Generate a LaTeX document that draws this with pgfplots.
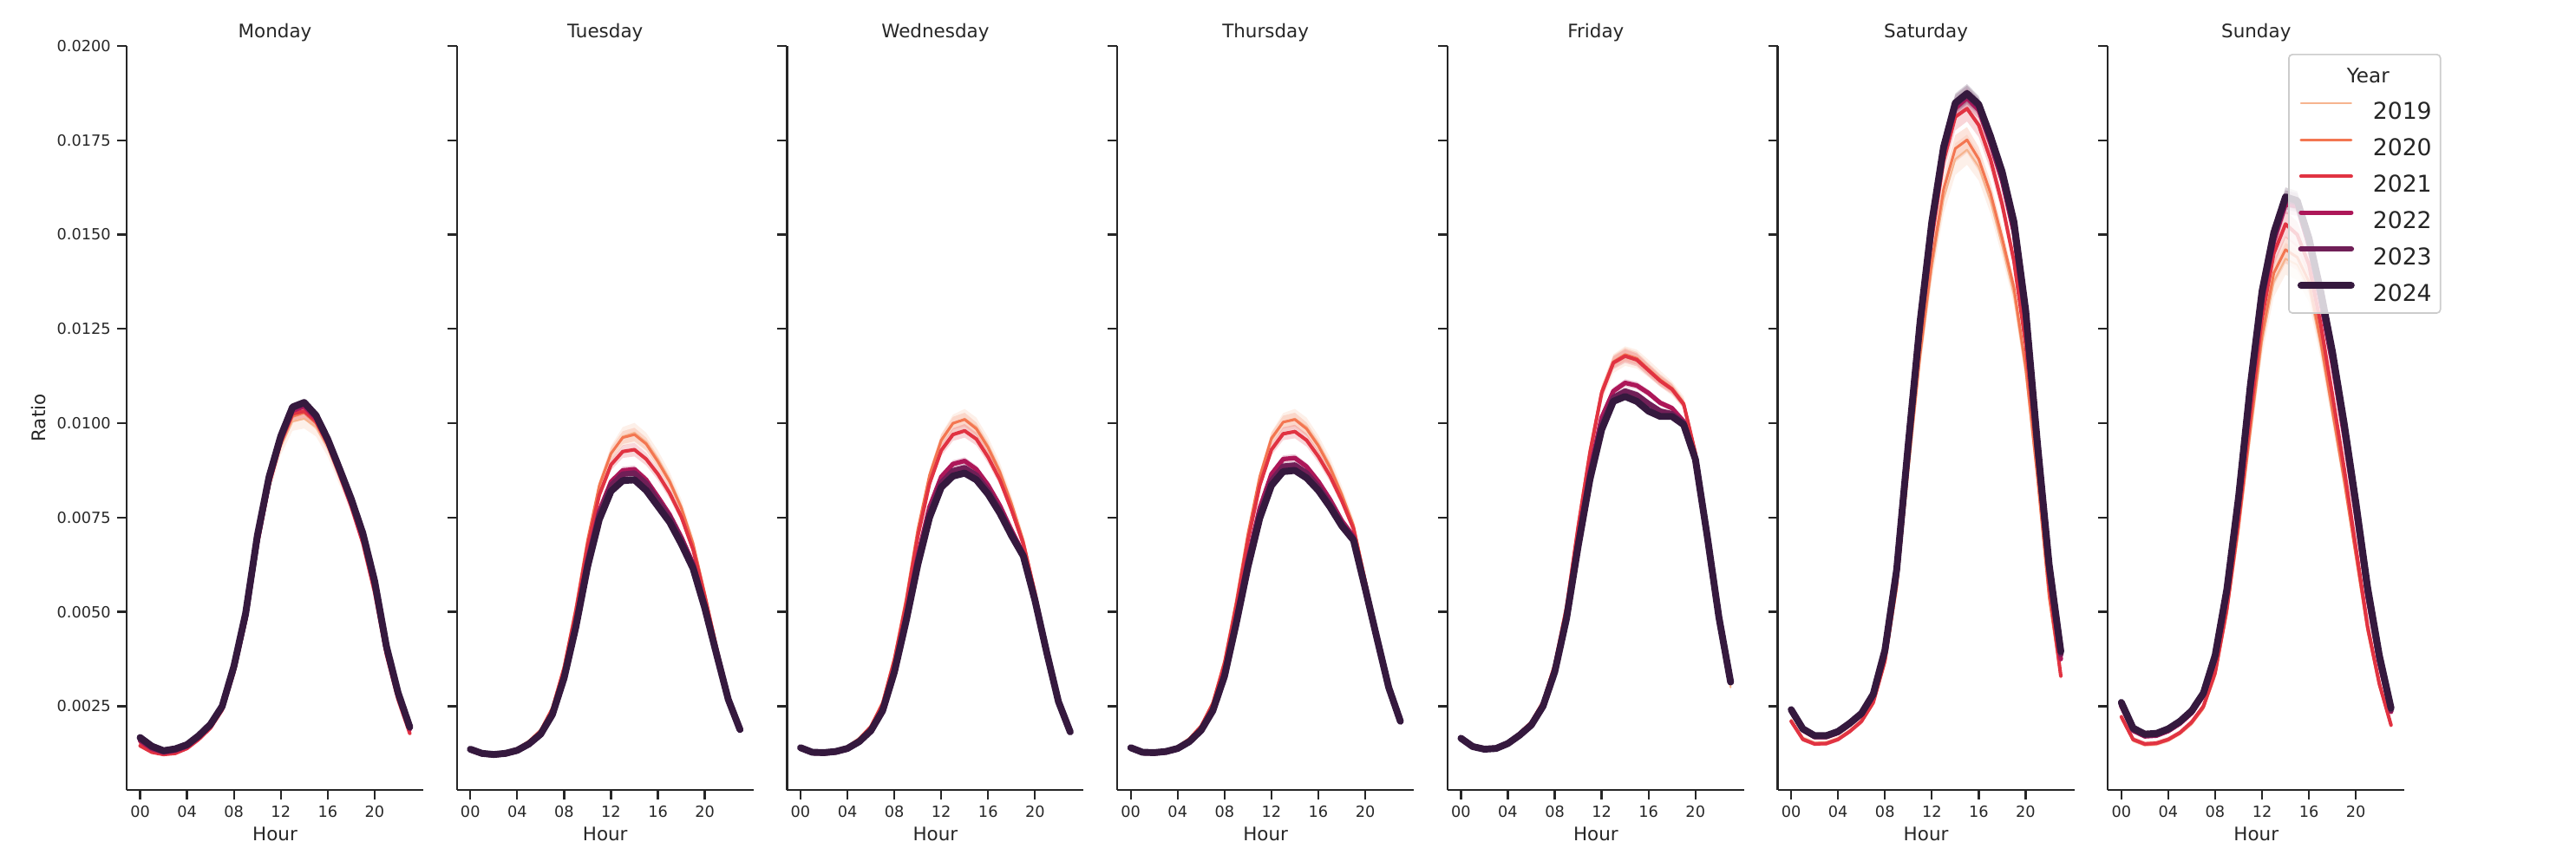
\documentclass[border=0pt]{standalone}
\usepackage{fontspec}
\setmainfont{DejaVu Sans}
\usepackage{pgfplots}
\usepackage{pgfplotstable}
\pgfplotsset{compat=1.18}
\usepgfplotslibrary{fillbetween}

\definecolor{c19}{HTML}{F6B48F}
\definecolor{c20}{HTML}{F37651}
\definecolor{c21}{HTML}{E13342}
\definecolor{c22}{HTML}{AD1759}
\definecolor{c23}{HTML}{701F57}
\definecolor{c24}{HTML}{35193E}
\definecolor{ax}{HTML}{262626}

% hourly ratio per year; e1/e2/e3 = half width of the band (2019 / 2020-21 / 2022-24)
\pgfplotstableread{
h y19 y20 y21 y22 y23 y24 e1 e2 e3
0 0.00152 0.00150 0.00145 0.00158 0.00163 0.00167 0.00004 0.00003 0.00002
1 0.00134 0.00132 0.00128 0.00137 0.00141 0.00144 0.00004 0.00003 0.00002
2 0.00126 0.00124 0.00122 0.00127 0.00130 0.00132 0.00004 0.00003 0.00002
3 0.00130 0.00128 0.00125 0.00132 0.00135 0.00137 0.00004 0.00003 0.00002
4 0.00142 0.00140 0.00138 0.00143 0.00146 0.00148 0.00004 0.00003 0.00002
5 0.00166 0.00165 0.00162 0.00167 0.00170 0.00172 0.00004 0.00003 0.00002
6 0.00196 0.00195 0.00192 0.00197 0.00200 0.00202 0.00005 0.00004 0.00002
7 0.00244 0.00243 0.00240 0.00245 0.00248 0.00250 0.00006 0.00004 0.00003
8 0.00344 0.00343 0.00340 0.00348 0.00352 0.00356 0.00008 0.00006 0.00003
9 0.00480 0.00480 0.00478 0.00485 0.00490 0.00496 0.00010 0.00007 0.00004
10 0.00678 0.00680 0.00678 0.00688 0.00695 0.00702 0.00014 0.00010 0.00006
11 0.00830 0.00835 0.00838 0.00845 0.00852 0.00858 0.00018 0.00013 0.00007
12 0.00938 0.00945 0.00950 0.00955 0.00962 0.00966 0.00022 0.00015 0.00009
13 0.01005 0.01018 0.01025 0.01033 0.01040 0.01043 0.00025 0.00017 0.00010
14 0.01012 0.01028 0.01032 0.01045 0.01052 0.01055 0.00026 0.00018 0.00010
15 0.00990 0.01000 0.01005 0.01012 0.01018 0.01021 0.00025 0.00017 0.00010
16 0.00935 0.00942 0.00945 0.00950 0.00955 0.00958 0.00023 0.00016 0.00009
17 0.00858 0.00862 0.00865 0.00870 0.00876 0.00880 0.00021 0.00015 0.00008
18 0.00780 0.00782 0.00780 0.00788 0.00795 0.00800 0.00019 0.00013 0.00008
19 0.00688 0.00688 0.00682 0.00695 0.00702 0.00708 0.00016 0.00011 0.00006
20 0.00562 0.00560 0.00552 0.00568 0.00576 0.00582 0.00012 0.00008 0.00005
21 0.00396 0.00394 0.00388 0.00398 0.00405 0.00410 0.00009 0.00006 0.00004
22 0.00275 0.00273 0.00268 0.00278 0.00283 0.00286 0.00006 0.00004 0.00003
23 0.00185 0.00183 0.00178 0.00189 0.00193 0.00195 0.00005 0.00004 0.00002
}\mon

\pgfplotstableread{
h y19 y20 y21 y22 y23 y24 e1 e2 e3
0 0.00140 0.00137 0.00138 0.00134 0.00135 0.00136 0.00004 0.00003 0.00002
1 0.00129 0.00126 0.00127 0.00123 0.00124 0.00125 0.00004 0.00003 0.00002
2 0.00126 0.00123 0.00124 0.00120 0.00121 0.00122 0.00004 0.00003 0.00002
3 0.00129 0.00126 0.00127 0.00123 0.00124 0.00125 0.00004 0.00003 0.00002
4 0.00139 0.00136 0.00136 0.00131 0.00132 0.00133 0.00004 0.00003 0.00002
5 0.00159 0.00156 0.00155 0.00149 0.00149 0.00150 0.00004 0.00003 0.00002
6 0.00188 0.00186 0.00184 0.00176 0.00175 0.00176 0.00005 0.00004 0.00002
7 0.00248 0.00246 0.00242 0.00230 0.00228 0.00228 0.00006 0.00004 0.00003
8 0.00356 0.00356 0.00350 0.00332 0.00328 0.00325 0.00008 0.00006 0.00003
9 0.00508 0.00510 0.00500 0.00472 0.00466 0.00460 0.00010 0.00007 0.00004
10 0.00685 0.00690 0.00675 0.00640 0.00630 0.00620 0.00014 0.00010 0.00006
11 0.00830 0.00835 0.00810 0.00768 0.00758 0.00745 0.00018 0.00013 0.00007
12 0.00918 0.00920 0.00890 0.00845 0.00835 0.00820 0.00022 0.00015 0.00009
13 0.00965 0.00962 0.00925 0.00875 0.00865 0.00848 0.00025 0.00017 0.00010
14 0.00975 0.00970 0.00930 0.00878 0.00868 0.00850 0.00026 0.00018 0.00010
15 0.00950 0.00945 0.00905 0.00850 0.00840 0.00822 0.00025 0.00017 0.00010
16 0.00905 0.00898 0.00865 0.00805 0.00795 0.00780 0.00023 0.00016 0.00009
17 0.00850 0.00845 0.00815 0.00758 0.00750 0.00738 0.00021 0.00015 0.00008
18 0.00780 0.00775 0.00752 0.00698 0.00690 0.00680 0.00019 0.00013 0.00008
19 0.00685 0.00680 0.00665 0.00628 0.00622 0.00615 0.00016 0.00011 0.00006
20 0.00550 0.00548 0.00540 0.00518 0.00515 0.00510 0.00012 0.00008 0.00005
21 0.00410 0.00408 0.00405 0.00392 0.00390 0.00388 0.00009 0.00006 0.00004
22 0.00277 0.00275 0.00275 0.00268 0.00268 0.00268 0.00006 0.00004 0.00003
23 0.00190 0.00190 0.00192 0.00188 0.00188 0.00188 0.00005 0.00004 0.00002
}\tue

\pgfplotstableread{
h y19 y20 y21 y22 y23 y24 e1 e2 e3
0 0.00144 0.00141 0.00142 0.00138 0.00139 0.00140 0.00004 0.00003 0.00002
1 0.00132 0.00129 0.00130 0.00126 0.00127 0.00128 0.00004 0.00003 0.00002
2 0.00131 0.00128 0.00129 0.00125 0.00126 0.00127 0.00004 0.00003 0.00002
3 0.00134 0.00131 0.00132 0.00128 0.00129 0.00130 0.00004 0.00003 0.00002
4 0.00144 0.00141 0.00141 0.00137 0.00137 0.00138 0.00004 0.00003 0.00002
5 0.00166 0.00163 0.00162 0.00157 0.00156 0.00156 0.00004 0.00003 0.00002
6 0.00199 0.00197 0.00195 0.00188 0.00186 0.00185 0.00005 0.00004 0.00002
7 0.00262 0.00260 0.00255 0.00243 0.00240 0.00238 0.00006 0.00004 0.00003
8 0.00378 0.00378 0.00370 0.00350 0.00344 0.00340 0.00008 0.00006 0.00003
9 0.00530 0.00532 0.00520 0.00490 0.00481 0.00475 0.00010 0.00007 0.00004
10 0.00712 0.00718 0.00700 0.00648 0.00635 0.00625 0.00014 0.00010 0.00006
11 0.00858 0.00862 0.00840 0.00778 0.00762 0.00750 0.00018 0.00013 0.00007
12 0.00950 0.00955 0.00928 0.00858 0.00842 0.00830 0.00022 0.00015 0.00009
13 0.00998 0.01000 0.00970 0.00892 0.00874 0.00860 0.00025 0.00017 0.00010
14 0.01012 0.01010 0.00980 0.00900 0.00882 0.00868 0.00026 0.00018 0.00010
15 0.00990 0.00985 0.00958 0.00878 0.00862 0.00850 0.00025 0.00017 0.00010
16 0.00940 0.00935 0.00910 0.00836 0.00822 0.00812 0.00023 0.00016 0.00009
17 0.00875 0.00870 0.00850 0.00782 0.00770 0.00762 0.00021 0.00015 0.00008
18 0.00790 0.00785 0.00770 0.00716 0.00708 0.00702 0.00019 0.00013 0.00008
19 0.00690 0.00688 0.00680 0.00655 0.00650 0.00648 0.00016 0.00011 0.00006
20 0.00555 0.00552 0.00550 0.00535 0.00532 0.00530 0.00012 0.00008 0.00005
21 0.00402 0.00400 0.00400 0.00394 0.00392 0.00392 0.00009 0.00006 0.00004
22 0.00266 0.00265 0.00265 0.00262 0.00262 0.00262 0.00006 0.00004 0.00003
23 0.00183 0.00183 0.00183 0.00182 0.00182 0.00182 0.00005 0.00004 0.00002
}\wed

\pgfplotstableread{
h y19 y20 y21 y22 y23 y24 e1 e2 e3
0 0.00144 0.00141 0.00142 0.00138 0.00139 0.00140 0.00004 0.00003 0.00002
1 0.00132 0.00129 0.00130 0.00126 0.00127 0.00128 0.00004 0.00003 0.00002
2 0.00131 0.00128 0.00129 0.00125 0.00126 0.00127 0.00004 0.00003 0.00002
3 0.00134 0.00131 0.00132 0.00128 0.00129 0.00130 0.00004 0.00003 0.00002
4 0.00144 0.00141 0.00141 0.00137 0.00137 0.00138 0.00004 0.00003 0.00002
5 0.00166 0.00163 0.00162 0.00157 0.00156 0.00156 0.00004 0.00003 0.00002
6 0.00200 0.00198 0.00196 0.00189 0.00187 0.00186 0.00005 0.00004 0.00002
7 0.00262 0.00260 0.00255 0.00243 0.00240 0.00238 0.00006 0.00004 0.00003
8 0.00370 0.00370 0.00362 0.00340 0.00334 0.00330 0.00008 0.00006 0.00003
9 0.00525 0.00528 0.00515 0.00485 0.00476 0.00470 0.00010 0.00007 0.00004
10 0.00702 0.00708 0.00690 0.00642 0.00630 0.00620 0.00014 0.00010 0.00006
11 0.00852 0.00858 0.00835 0.00775 0.00760 0.00748 0.00018 0.00013 0.00007
12 0.00955 0.00960 0.00930 0.00865 0.00848 0.00835 0.00022 0.00015 0.00009
13 0.01002 0.01003 0.00972 0.00905 0.00886 0.00872 0.00025 0.00017 0.00010
14 0.01012 0.01010 0.00978 0.00908 0.00889 0.00875 0.00026 0.00018 0.00010
15 0.00990 0.00985 0.00955 0.00885 0.00868 0.00855 0.00025 0.00017 0.00010
16 0.00945 0.00940 0.00912 0.00846 0.00832 0.00822 0.00023 0.00016 0.00009
17 0.00888 0.00882 0.00860 0.00798 0.00786 0.00778 0.00021 0.00015 0.00008
18 0.00815 0.00810 0.00795 0.00742 0.00734 0.00728 0.00019 0.00013 0.00008
19 0.00732 0.00728 0.00720 0.00700 0.00694 0.00690 0.00016 0.00011 0.00006
20 0.00588 0.00585 0.00580 0.00568 0.00565 0.00562 0.00012 0.00008 0.00005
21 0.00442 0.00440 0.00438 0.00433 0.00432 0.00430 0.00009 0.00006 0.00004
22 0.00303 0.00302 0.00302 0.00300 0.00300 0.00300 0.00006 0.00004 0.00003
23 0.00209 0.00209 0.00210 0.00210 0.00210 0.00210 0.00005 0.00004 0.00002
}\thu

\pgfplotstableread{
h y19 y20 y21 y22 y23 y24 e1 e2 e3
0 0.00168 0.00166 0.00167 0.00166 0.00166 0.00165 0.00004 0.00003 0.00002
1 0.00146 0.00144 0.00145 0.00144 0.00144 0.00143 0.00004 0.00003 0.00002
2 0.00139 0.00137 0.00138 0.00137 0.00137 0.00136 0.00004 0.00003 0.00002
3 0.00141 0.00139 0.00140 0.00139 0.00139 0.00138 0.00004 0.00003 0.00002
4 0.00155 0.00153 0.00154 0.00152 0.00152 0.00151 0.00004 0.00003 0.00002
5 0.00180 0.00178 0.00178 0.00175 0.00174 0.00173 0.00004 0.00003 0.00002
6 0.00210 0.00208 0.00207 0.00203 0.00201 0.00200 0.00005 0.00004 0.00002
7 0.00265 0.00262 0.00260 0.00254 0.00251 0.00250 0.00006 0.00004 0.00003
8 0.00364 0.00362 0.00358 0.00348 0.00343 0.00341 0.00008 0.00006 0.00003
9 0.00516 0.00516 0.00510 0.00492 0.00486 0.00482 0.00010 0.00007 0.00004
10 0.00728 0.00732 0.00725 0.00692 0.00682 0.00675 0.00014 0.00010 0.00006
11 0.00922 0.00928 0.00920 0.00875 0.00860 0.00851 0.00018 0.00013 0.00007
12 0.01078 0.01085 0.01080 0.01015 0.00995 0.00983 0.00022 0.00015 0.00009
13 0.01158 0.01163 0.01160 0.01085 0.01068 0.01058 0.00025 0.00017 0.00010
14 0.01178 0.01182 0.01178 0.01107 0.01085 0.01071 0.00026 0.00018 0.00010
15 0.01170 0.01172 0.01168 0.01100 0.01075 0.01058 0.00025 0.00017 0.00010
16 0.01145 0.01143 0.01140 0.01080 0.01052 0.01032 0.00023 0.00016 0.00009
17 0.01118 0.01115 0.01112 0.01054 0.01032 0.01018 0.00021 0.00015 0.00008
18 0.01092 0.01093 0.01090 0.01040 0.01025 0.01018 0.00019 0.00013 0.00008
19 0.01055 0.01053 0.01050 0.01005 0.01000 0.00996 0.00016 0.00011 0.00006
20 0.00925 0.00922 0.00920 0.00908 0.00905 0.00904 0.00012 0.00008 0.00005
21 0.00712 0.00708 0.00708 0.00703 0.00702 0.00702 0.00009 0.00006 0.00004
22 0.00490 0.00488 0.00488 0.00486 0.00486 0.00486 0.00006 0.00004 0.00003
23 0.00300 0.00310 0.00312 0.00313 0.00314 0.00314 0.00005 0.00004 0.00002
}\fri

\pgfplotstableread{
h y19 y20 y21 y22 y23 y24 e1 e2 e3
0 0.00214 0.00212 0.00210 0.00236 0.00240 0.00241 0.00006 0.00006 0.00005
1 0.00166 0.00164 0.00162 0.00186 0.00189 0.00190 0.00006 0.00006 0.00005
2 0.00153 0.00151 0.00150 0.00168 0.00171 0.00172 0.00006 0.00006 0.00005
3 0.00154 0.00152 0.00151 0.00168 0.00171 0.00172 0.00006 0.00006 0.00005
4 0.00165 0.00163 0.00162 0.00179 0.00182 0.00183 0.00006 0.00006 0.00005
5 0.00186 0.00184 0.00183 0.00201 0.00204 0.00205 0.00006 0.00006 0.00005
6 0.00212 0.00210 0.00210 0.00227 0.00230 0.00231 0.00008 0.00008 0.00005
7 0.00259 0.00258 0.00260 0.00276 0.00280 0.00282 0.00010 0.00008 0.00008
8 0.00365 0.00366 0.00372 0.00390 0.00396 0.00399 0.00013 0.00012 0.00008
9 0.00560 0.00565 0.00580 0.00598 0.00608 0.00612 0.00016 0.00014 0.00010
10 0.00875 0.00885 0.00910 0.00930 0.00942 0.00948 0.00022 0.00020 0.00015
11 0.01170 0.01185 0.01228 0.01250 0.01262 0.01270 0.00029 0.00026 0.00018
12 0.01410 0.01430 0.01490 0.01515 0.01526 0.01534 0.00035 0.00030 0.00022
13 0.01595 0.01620 0.01695 0.01715 0.01725 0.01732 0.00040 0.00034 0.00025
14 0.01700 0.01728 0.01812 0.01835 0.01845 0.01849 0.00042 0.00036 0.00025
15 0.01725 0.01751 0.01834 0.01862 0.01870 0.01874 0.00040 0.00034 0.00025
16 0.01680 0.01700 0.01790 0.01830 0.01840 0.01845 0.00037 0.00032 0.00022
17 0.01590 0.01610 0.01700 0.01742 0.01752 0.01761 0.00034 0.00030 0.00020
18 0.01470 0.01490 0.01580 0.01642 0.01655 0.01666 0.00030 0.00026 0.00020
19 0.01340 0.01360 0.01430 0.01505 0.01520 0.01534 0.00026 0.00022 0.00015
20 0.01135 0.01150 0.01210 0.01270 0.01285 0.01300 0.00019 0.00016 0.00012
21 0.00850 0.00860 0.00900 0.00920 0.00935 0.00948 0.00014 0.00012 0.00010
22 0.00535 0.00540 0.00570 0.00600 0.00615 0.00626 0.00010 0.00008 0.00008
23 0.00330 0.00330 0.00330 0.00375 0.00388 0.00395 0.00008 0.00008 0.00005
}\sat

\pgfplotstableread{
h y19 y20 y21 y22 y23 y24 e1 e2 e3
0 0.00224 0.00220 0.00222 0.00250 0.00255 0.00260 0.00006 0.00006 0.00005
1 0.00164 0.00160 0.00162 0.00185 0.00188 0.00192 0.00006 0.00006 0.00005
2 0.00152 0.00148 0.00150 0.00170 0.00173 0.00176 0.00006 0.00006 0.00005
3 0.00154 0.00150 0.00152 0.00172 0.00175 0.00178 0.00006 0.00006 0.00005
4 0.00164 0.00160 0.00162 0.00184 0.00187 0.00190 0.00006 0.00006 0.00005
5 0.00182 0.00178 0.00180 0.00204 0.00207 0.00210 0.00006 0.00006 0.00005
6 0.00208 0.00205 0.00208 0.00232 0.00235 0.00238 0.00008 0.00008 0.00005
7 0.00248 0.00246 0.00250 0.00278 0.00282 0.00285 0.00010 0.00008 0.00008
8 0.00334 0.00334 0.00340 0.00375 0.00380 0.00385 0.00013 0.00012 0.00008
9 0.00496 0.00500 0.00510 0.00545 0.00552 0.00560 0.00016 0.00014 0.00010
10 0.00715 0.00725 0.00745 0.00785 0.00795 0.00805 0.00022 0.00020 0.00015
11 0.00970 0.00985 0.01020 0.01075 0.01088 0.01100 0.00029 0.00026 0.00018
12 0.01215 0.01235 0.01280 0.01325 0.01338 0.01350 0.00035 0.00030 0.00022
13 0.01375 0.01398 0.01450 0.01482 0.01495 0.01505 0.00040 0.00034 0.00025
14 0.01436 0.01460 0.01528 0.01580 0.01592 0.01600 0.00042 0.00036 0.00025
15 0.01420 0.01440 0.01500 0.01575 0.01585 0.01590 0.00040 0.00034 0.00025
16 0.01358 0.01375 0.01420 0.01470 0.01482 0.01490 0.00037 0.00032 0.00022
17 0.01205 0.01220 0.01262 0.01322 0.01338 0.01350 0.00034 0.00030 0.00020
18 0.01025 0.01035 0.01075 0.01158 0.01175 0.01190 0.00030 0.00026 0.00020
19 0.00845 0.00850 0.00880 0.00968 0.00985 0.01000 0.00026 0.00022 0.00015
20 0.00648 0.00650 0.00670 0.00760 0.00775 0.00790 0.00019 0.00016 0.00012
21 0.00452 0.00452 0.00462 0.00540 0.00552 0.00565 0.00014 0.00012 0.00010
22 0.00306 0.00306 0.00310 0.00365 0.00375 0.00385 0.00010 0.00008 0.00008
23 0.00202 0.00200 0.00200 0.00235 0.00240 0.00245 0.00008 0.00008 0.00005
}\sun

% one confidence band: table, year column, half-width column, colour
\newcommand{\band}[4]{%
  \addplot[draw=none, forget plot, name path=U#2] table[x=h, y expr=\thisrow{#2}+\thisrow{#3}] {#1};
  \addplot[draw=none, forget plot, name path=L#2] table[x=h, y expr=\thisrow{#2}-\thisrow{#3}] {#1};
  \addplot[fill=#4, fill opacity=0.2, draw=none, forget plot] fill between[of=U#2 and L#2];
}
\newcommand{\yline}[4]{%
  \addplot[#3, line width=#4, line join=round, line cap=round, forget plot] table[x=h, y=#2] {#1};
}
\newcommand{\drawday}[1]{%
  \band{#1}{y19}{e1}{c19}
  \band{#1}{y20}{e2}{c20}
  \band{#1}{y21}{e2}{c21}
  \band{#1}{y22}{e3}{c22}
  \band{#1}{y23}{e3}{c23}
  \band{#1}{y24}{e3}{c24}
  \yline{#1}{y19}{c19}{1.0pt}
  \yline{#1}{y20}{c20}{1.45pt}
  \yline{#1}{y21}{c21}{1.95pt}
  \yline{#1}{y22}{c22}{2.5pt}
  \yline{#1}{y23}{c23}{3.1pt}
  \yline{#1}{y24}{c24}{3.8pt}
}

\pgfplotsset{
  day/.style={
    scale only axis, width=164.16pt, height=411.84pt,
    anchor=south west,
    xmin=-1.15, xmax=24.15, ymin=0.00028, ymax=0.0200,
    axis x line*=bottom, axis y line*=left,
    axis line style={ax, line width=1.1pt, -},
    xtick={0,4,8,12,16,20}, xticklabels={00,04,08,12,16,20},
    ytick={0.0025,0.005,0.0075,0.01,0.0125,0.015,0.0175,0.02},
    yticklabels={},
    scaled y ticks=false,
    tick align=outside, major tick length=5.3pt,
    tick style={ax, line width=1.1pt},
    tick label style={font=\fontsize{8.5}{10}\selectfont, text=ax},
    /pgf/number format/assume math mode=true,
    xlabel={Hour},
    xlabel style={font=\fontsize{10.3}{12}\selectfont, text=ax, at={(0.5,0)}, anchor=base, yshift=-28.3pt},
    title style={font=\fontsize{10.3}{12}\selectfont, text=ax, at={(0.5,1)}, anchor=base, yshift=-1.2pt},
  }
}

\begin{document}
\begin{tikzpicture}

\begin{axis}[day, at={(70.08pt,42.72pt)}, title={Monday},
  yticklabels={0.0025,0.0050,0.0075,0.0100,0.0125,0.0150,0.0175,0.0200},
  ylabel={Ratio},
  ylabel style={font=\fontsize{10.3}{12}\selectfont, text=ax, at={(0,0.5)}, anchor=center, yshift=48.5pt}]
\drawday{\mon}
\end{axis}

\begin{axis}[day, at={(252.82pt,42.72pt)}, title={Tuesday}]
\drawday{\tue}
\end{axis}

\begin{axis}[day, at={(435.56pt,42.72pt)}, title={Wednesday}]
\drawday{\wed}
\end{axis}

\begin{axis}[day, at={(618.30pt,42.72pt)}, title={Thursday}]
\drawday{\thu}
\end{axis}

\begin{axis}[day, at={(801.04pt,42.72pt)}, title={Friday}]
\drawday{\fri}
\end{axis}

\begin{axis}[day, at={(983.78pt,42.72pt)}, title={Saturday}]
\drawday{\sat}
\end{axis}

\begin{axis}[day, at={(1166.52pt,42.72pt)}, title={Sunday},
  legend style={at={(0.6076,0.9895)}, anchor=north west,
    draw=black!20, line width=0.8pt, rounded corners=2pt,
    fill=white, fill opacity=0.8, text opacity=1,
    font=\fontsize{12.8}{15}\selectfont, text=ax,
    inner xsep=4.8pt, inner ysep=1pt, row sep=0pt,
    nodes={inner sep=0pt, text height=14.75pt, text depth=5.41pt}},
  legend cell align=left,
  legend image code/.code={\draw[#1, line cap=round] (0pt,4.2pt) -- (27.84pt,4.2pt); \path (37.92pt,4.2pt);}]
\drawday{\sun}
\addlegendimage{empty legend}
\addlegendentry{\hspace*{-14.4pt}{\fontsize{11.1}{13}\selectfont Year}}
\addlegendimage{c19, line width=1.0pt}\addlegendentry{2019}
\addlegendimage{c20, line width=1.45pt}\addlegendentry{2020}
\addlegendimage{c21, line width=1.95pt}\addlegendentry{2021}
\addlegendimage{c22, line width=2.5pt}\addlegendentry{2022}
\addlegendimage{c23, line width=3.1pt}\addlegendentry{2023}
\addlegendimage{c24, line width=3.8pt}\addlegendentry{2024}
\end{axis}

\pgfresetboundingbox
\useasboundingbox (0,0) rectangle (1425.6pt,480pt);
\end{tikzpicture}
\end{document}
